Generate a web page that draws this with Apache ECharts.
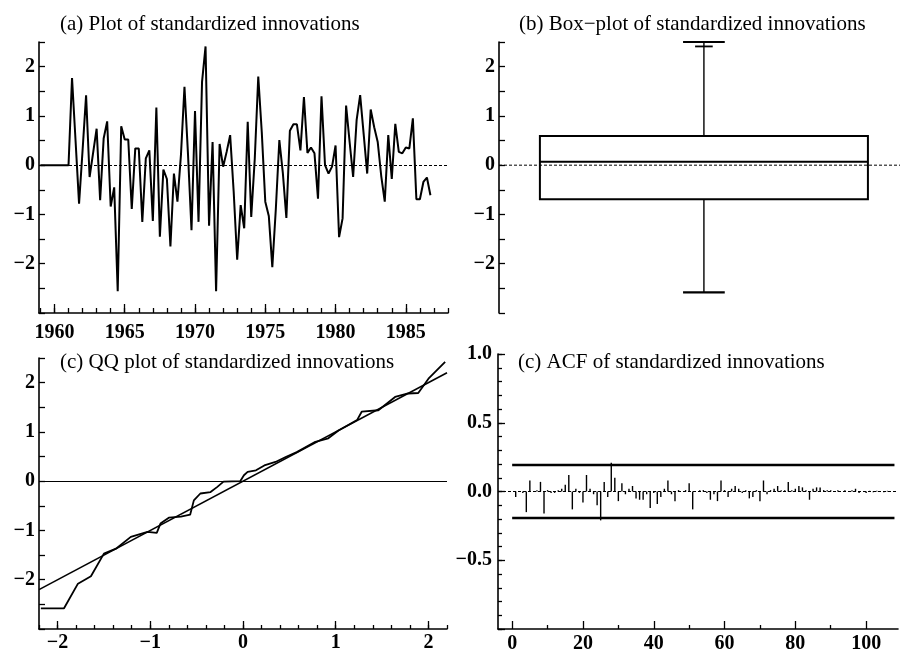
<!DOCTYPE html>
<html><head><meta charset="utf-8">
<script src="https://cdn.jsdelivr.net/npm/echarts@6/dist/echarts.min.js"></script>
<style>html,body{margin:0;padding:0;background:#fff}#c{width:900px;height:654px}</style>
</head><body><div id="c"></div>
<script>
// ---------- DATA ----------
const startYear = 1959;           // quarterly series starting 1959 Q1
const innovations = [
  0,0,0,0,
  0,0,0,0,
  0,1.77,0.50,-0.78,
  0.30,1.42,-0.24,0.25,
  0.74,-0.71,0.54,0.89,
  -0.84,-0.45,-2.56,0.79,
  0.52,0.52,-0.89,0.34,
  0.34,-1.15,0.14,0.30,
  -1.13,1.17,-1.45,-0.09,
  -0.28,-1.65,-0.17,-0.74,
  0.21,1.59,0.23,-1.32,
  1.10,-1.15,1.69,2.41,
  -1.23,0.47,-2.56,0.43,
  -0.03,0.27,0.61,-0.53,
  -1.92,-0.81,-1.28,0.88,
  -1.05,0.12,1.80,0.67,
  -0.74,-1.03,-2.07,-0.89,
  0.51,-0.16,-1.07,0.70,
  0.83,0.83,0.30,1.38,
  0.25,0.36,0.24,-0.68,
  1.40,0.00,-0.17,-0.03,
  0.40,-1.46,-1.08,1.21,
  0.47,-0.24,0.92,1.42,
  0.63,-0.17,1.13,0.77,
  0.47,-0.22,-0.74,0.61,
  -0.28,0.84,0.27,0.24,
  0.36,0.34,0.95,-0.69,
  -0.69,-0.34,-0.25,-0.61
];
const yearMinorTicks = [1959,1960,1961,1962,1963,1964,1965,1966,1967,1968,1969,1970,1971,1972,1973,1974,1975,1976,1977,1978,1979,1980,1981,1982,1983,1984,1985,1986,1987,1988];
const yearMajorTicks = [1960,1965,1970,1975,1980,1985];

// box-plot statistics
const boxLow = -2.58, boxQ1 = -0.69, boxMedian = 0.07, boxQ3 = 0.59, boxWhiskerHigh = 2.41, boxMax = 2.50;

// QQ plot
const qqTheoretical = [-2.18,-1.93,-1.78,-1.64,-1.50,-1.37,-1.21,-1.03,-0.93,-0.89,-0.80,-0.67,-0.57,-0.53,-0.46,-0.35,-0.28,-0.21,-0.03,0.01,0.05,0.14,0.23,0.35,0.46,0.58,0.78,0.92,1.03,1.23,1.28,1.46,1.64,1.78,1.89,2.00,2.18];
const qqSample      = [-2.58,-2.58,-2.08,-1.93,-1.47,-1.37,-1.13,-1.03,-1.05,-0.86,-0.74,-0.72,-0.68,-0.39,-0.25,-0.22,-0.12,-0.01,0.00,0.12,0.19,0.22,0.32,0.39,0.49,0.59,0.80,0.87,1.03,1.24,1.41,1.44,1.71,1.78,1.79,2.08,2.42];
const qqFitX = [-2.2, 2.2];
const qqFitY = [-2.2, 2.2];
const qqMinorTicks = [-2.2,-2.0,-1.8,-1.6,-1.4,-1.2,-1.0,-0.8,-0.6,-0.4,-0.2,0,0.2,0.4,0.6,0.8,1.0,1.2,1.4,1.6,1.8,2.0,2.2];
const qqMajorTicks = [-2,-1,0,1,2];

// ACF (lags 1..107)
const acfValues = [
  -0.04,0.00,-0.01,-0.15,0.08,0.00,0.01,0.07,-0.16,0.01,
  -0.01,-0.01,0.01,0.02,0.05,0.12,-0.13,0.02,-0.01,-0.08,
  0.12,0.02,-0.02,-0.10,-0.21,0.07,-0.04,0.21,0.10,-0.07,
  0.06,-0.02,0.02,0.04,-0.05,-0.06,-0.06,-0.02,-0.12,-0.01,
  -0.09,-0.04,0.02,0.08,-0.02,-0.07,0.01,0.00,0.01,0.06,
  -0.13,0.00,0.01,0.01,-0.01,-0.06,-0.02,-0.07,0.08,0.01,
  -0.04,0.02,0.04,0.02,-0.01,0.01,-0.05,-0.04,0.01,-0.07,
  0.08,-0.02,0.01,0.02,0.04,0.01,0.01,0.07,0.01,0.02,
  0.04,0.03,0.01,-0.06,0.02,0.03,0.03,0.01,0.01,0.01,
  0.00,0.01,0.00,0.01,0.00,0.01,0.02,-0.01,0.00,-0.01,
  0.005,-0.005,0.005,0.00,-0.005,0.005,0.00
];
const acfBound = 0.192;
const acfBoundLags = [0, 108];
const acfMinorTicks = [10,30,50,70,90];
const acfMajorTicks = [0,20,40,60,80,100];

// ---------- BUILD ----------
const tsData = innovations.map((v,i)=>[startYear + i/4, v]);
const qqData = qqTheoretical.map((x,i)=>[x, qqSample[i]]);
const acfData = acfValues.map((v,i)=>[i+1, v]);

const SERIF = 'Liberation Serif';
const labelFont = {fontFamily:SERIF, fontSize:20, fontWeight:'bold', color:'#000'};
const blackLine = (w)=>({show:true, onZero:false, lineStyle:{color:'#000', width:w}});
const noLine = {show:false, onZero:false};
const minus = (s)=>s.replace('-', '\u2212');
function intLabel(v){
  const r = Math.round(v);
  if (Math.abs(v - r) > 1e-6 || r === -3) return '';
  return minus(String(r));
}
function yAxisStd(grid){
  return {type:'value', gridIndex:grid, position:'left', min:-3, max:2.5, interval:0.5,
    axisLine:blackLine(1.6), axisTick:{show:true, inside:true, length:6, lineStyle:{color:'#000', width:1.3}},
    axisLabel:Object.assign({formatter:intLabel, margin:4}, labelFont), splitLine:{show:false}};
}
function titleAt(text, left, top){
  return {text, left, top, padding:0, textStyle:{fontFamily:SERIF, fontSize:21, fontWeight:'normal', color:'#000'}};
}
const zeroDotted = {silent:true, symbol:'none', label:{show:false}, lineStyle:{color:'#000', type:[3,2], width:1}, data:[{yAxis:0}]};

const option = {
  animation:false,
  backgroundColor:'#fff',
  title:[
    titleAt('(a) Plot of standardized innovations', 60, 14),
    titleAt('(b) Box\u2212plot of standardized innovations', 519, 14),
    titleAt('(c) QQ plot of standardized innovations', 60, 352),
    titleAt('(c) ACF of standardized innovations', 518, 352)
  ],
  grid:[
    {left:39, top:42, width:409, height:271},
    {left:499, top:42, width:401, height:271},
    {left:39, top:358, width:408, height:271},
    {left:498, top:354, width:400, height:275}
  ],
  xAxis:[
    // 0: panel a minor
    {type:'value', gridIndex:0, position:'bottom', min:1958.9, max:1988, axisLine:blackLine(1.6),
      axisTick:{show:true, inside:true, length:5, customValues:yearMinorTicks, lineStyle:{color:'#000', width:1.3}},
      axisLabel:{show:false}, splitLine:{show:false}},
    // 1: panel a major
    {type:'value', gridIndex:0, position:'bottom', min:1958.9, max:1988, axisLine:noLine,
      axisTick:{show:true, inside:true, length:9, customValues:yearMajorTicks, lineStyle:{color:'#000', width:1.3}},
      axisLabel:Object.assign({customValues:yearMajorTicks, margin:10, formatter:(v)=>String(Math.round(v))}, labelFont), splitLine:{show:false}},
    // 2: panel b hidden
    {type:'value', gridIndex:1, min:0, max:1, show:false},
    // 3: panel c minor
    {type:'value', gridIndex:2, position:'bottom', min:-2.2, max:2.2, axisLine:blackLine(1.6),
      axisTick:{show:true, inside:true, length:4, customValues:qqMinorTicks, lineStyle:{color:'#000', width:1.3}},
      axisLabel:{show:false}, splitLine:{show:false}},
    // 4: panel c major
    {type:'value', gridIndex:2, position:'bottom', min:-2.2, max:2.2, axisLine:noLine,
      axisTick:{show:true, inside:true, length:8, customValues:qqMajorTicks, lineStyle:{color:'#000', width:1.3}},
      axisLabel:Object.assign({customValues:qqMajorTicks, margin:4, formatter:(v)=>minus(String(Math.round(v)))}, labelFont), splitLine:{show:false}},
    // 5: panel d minor
    {type:'value', gridIndex:3, position:'bottom', min:-4, max:109, axisLine:blackLine(1.6),
      axisTick:{show:true, inside:true, length:4, customValues:acfMinorTicks, lineStyle:{color:'#000', width:1.3}},
      axisLabel:{show:false}, splitLine:{show:false}},
    // 6: panel d major
    {type:'value', gridIndex:3, position:'bottom', min:-4, max:109, axisLine:noLine,
      axisTick:{show:true, inside:true, length:8, customValues:acfMajorTicks, lineStyle:{color:'#000', width:1.3}},
      axisLabel:Object.assign({customValues:acfMajorTicks, margin:5, formatter:(v)=>String(Math.round(v))}, labelFont), splitLine:{show:false}}
  ],
  yAxis:[
    yAxisStd(0),
    yAxisStd(1),
    yAxisStd(2),
    // 3: panel d minor
    {type:'value', gridIndex:3, position:'left', min:-1, max:1, interval:0.1, axisLine:blackLine(1.6),
      axisTick:{show:true, inside:true, length:4, lineStyle:{color:'#000', width:1.3}},
      axisLabel:{show:false}, splitLine:{show:false}},
    // 4: panel d major
    {type:'value', gridIndex:3, position:'left', min:-1, max:1, interval:0.5, axisLine:noLine,
      axisTick:{show:true, inside:true, length:7, lineStyle:{color:'#000', width:1.3}},
      axisLabel:Object.assign({margin:6, formatter:(v)=> Math.abs(v+1)<1e-6 ? '' : minus(v.toFixed(1))}, labelFont),
      splitLine:{show:false}}
  ],
  series:[
    // (a) time series
    {type:'line', xAxisIndex:0, yAxisIndex:0, data:tsData, showSymbol:false, symbol:'none',
      lineStyle:{color:'#000', width:2}, markLine:zeroDotted, z:3},
    // (b) zero line
    {type:'line', xAxisIndex:2, yAxisIndex:1, data:[[0,0],[1,0]], showSymbol:false, symbol:'none',
      lineStyle:{color:'#000', width:1, type:[3,2]}},
    // (b) box plot
    {type:'custom', xAxisIndex:2, yAxisIndex:1,
      data:[[0.511, boxLow, boxQ1, boxMedian, boxQ3, boxWhiskerHigh, boxMax]],
      renderItem:function(params, api){
        const cx = api.value(0);
        const halfW = 0.409, capW = 0.052, innerCapW = 0.022;
        const pLow = api.coord([cx, api.value(1)]);
        const pQ1 = api.coord([cx, api.value(2)]);
        const pMed = api.coord([cx, api.value(3)]);
        const pQ3 = api.coord([cx, api.value(4)]);
        const pWh = api.coord([cx, api.value(5)]);
        const pMax = api.coord([cx, api.value(6)]);
        const xl = api.coord([cx-halfW, 0])[0], xr = api.coord([cx+halfW, 0])[0];
        const cl = api.coord([cx-capW, 0])[0], cr = api.coord([cx+capW, 0])[0];
        const il = api.coord([cx-innerCapW, 0])[0], ir = api.coord([cx+innerCapW, 0])[0];
        const st = {stroke:'#000', lineWidth:1.8, fill:null};
        return {type:'group', children:[
          {type:'rect', shape:{x:xl, y:pQ3[1], width:xr-xl, height:pQ1[1]-pQ3[1]}, style:{stroke:'#000', lineWidth:2, fill:null}},
          {type:'line', shape:{x1:xl, y1:pMed[1], x2:xr, y2:pMed[1]}, style:st},
          {type:'line', shape:{x1:pQ3[0], y1:pQ3[1], x2:pMax[0], y2:pMax[1]}, style:{stroke:'#000', lineWidth:1.4}},
          {type:'line', shape:{x1:pQ1[0], y1:pQ1[1], x2:pLow[0], y2:pLow[1]}, style:{stroke:'#000', lineWidth:1.4}},
          {type:'line', shape:{x1:cl, y1:pMax[1], x2:cr, y2:pMax[1]}, style:st},
          {type:'line', shape:{x1:il, y1:pWh[1], x2:ir, y2:pWh[1]}, style:st},
          {type:'line', shape:{x1:cl, y1:pLow[1], x2:cr, y2:pLow[1]}, style:{stroke:'#000', lineWidth:2.2}}
        ]};
      }},
    // (c) QQ sample curve
    {type:'line', xAxisIndex:3, yAxisIndex:2, data:qqData, showSymbol:false, symbol:'none',
      lineStyle:{color:'#000', width:1.8},
      markLine:{silent:true, symbol:'none', label:{show:false}, lineStyle:{color:'#000', type:'solid', width:1}, data:[{yAxis:0}]}},
    // (c) fitted line
    {type:'line', xAxisIndex:3, yAxisIndex:2, data:qqFitX.map((x,i)=>[x, qqFitY[i]]), showSymbol:false, symbol:'none',
      lineStyle:{color:'#000', width:1.6}},
    // (d) ACF bars
    {type:'custom', xAxisIndex:5, yAxisIndex:3, data:acfData,
      renderItem:function(params, api){
        const lag = api.value(0), v = api.value(1);
        const p0 = api.coord([lag, 0]), p1 = api.coord([lag, v]);
        return {type:'line', shape:{x1:p0[0], y1:p0[1], x2:p1[0], y2:p1[1]}, style:{stroke:'#000', lineWidth:1.4}};
      }},
    // (d) bounds
    {type:'line', xAxisIndex:5, yAxisIndex:3, data:acfBoundLags.map(l=>[l, acfBound]), showSymbol:false, symbol:'none',
      lineStyle:{color:'#000', width:2.5}, markLine:zeroDotted},
    {type:'line', xAxisIndex:5, yAxisIndex:3, data:acfBoundLags.map(l=>[l, -acfBound]), showSymbol:false, symbol:'none',
      lineStyle:{color:'#000', width:2.5}}
  ]
};
const chart = echarts.init(document.getElementById('c'), null, {renderer:'canvas'});
chart.setOption(option);
</script>
</body></html>
